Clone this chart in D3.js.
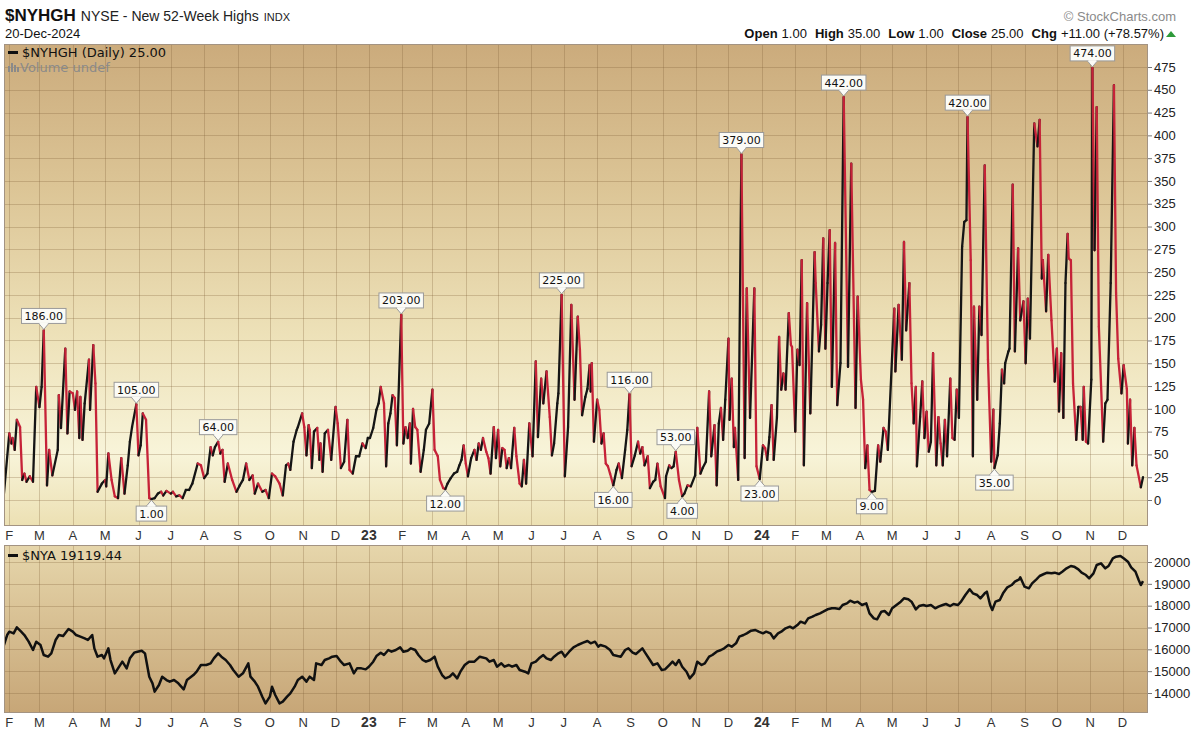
<!DOCTYPE html>
<html><head><meta charset="utf-8">
<script src="https://cdn.jsdelivr.net/npm/d3@7"></script>
<style>body{margin:0;background:#fff;} svg{display:block;font-family:"Liberation Sans",Arial,sans-serif;}</style>
</head><body><svg id="c" width="1200" height="739"></svg>
<script>
// ---------------- DATA ----------------
const nyhghData = [
["2022-01-27",7],["2022-02-01",73],["2022-02-03",62],["2022-02-04",68],["2022-02-06",55],["2022-02-08",88],["2022-02-11",80],["2022-02-13",22],["2022-02-15",29],["2022-02-17",20],["2022-02-20",26],["2022-02-23",20],["2022-02-26",124],["2022-03-01",102],["2022-03-03",124],["2022-03-05",186],["2022-03-08",16],["2022-03-10",55],["2022-03-13",27],["2022-03-18",55],["2022-03-19",115],["2022-03-21",79],["2022-03-25",166],["2022-03-27",73],["2022-03-29",119],["2022-04-01",117],["2022-04-03",99],["2022-04-05",119],["2022-04-07",68],["2022-04-08",113],["2022-04-10",66],["2022-04-12",106],["2022-04-16",154],["2022-04-17",99],["2022-04-20",170],["2022-04-22",128],["2022-04-24",9],["2022-04-28",18],["2022-05-01",22],["2022-05-02",15],["2022-05-04",51],["2022-05-07",22],["2022-05-10",4],["2022-05-13",2],["2022-05-16",46],["2022-05-19",7],["2022-05-22",38],["2022-05-24",64],["2022-05-26",80],["2022-05-30",105],["2022-06-01",49],["2022-06-03",60],["2022-06-05",95],["2022-06-08",88],["2022-06-11",2],["2022-06-13",1],["2022-06-16",2],["2022-06-19",7],["2022-06-22",9],["2022-06-24",5],["2022-06-27",10],["2022-07-01",7],["2022-07-03",9],["2022-07-06",4],["2022-07-09",5],["2022-07-12",2],["2022-07-15",11],["2022-07-18",11],["2022-07-21",18],["2022-07-26",40],["2022-07-29",38],["2022-08-01",24],["2022-08-04",29],["2022-08-07",58],["2022-08-09",49],["2022-08-11",58],["2022-08-14",64],["2022-08-16",51],["2022-08-18",55],["2022-08-20",20],["2022-08-23",40],["2022-08-27",22],["2022-08-31",9],["2022-09-03",16],["2022-09-06",22],["2022-09-09",40],["2022-09-12",22],["2022-09-15",27],["2022-09-17",7],["2022-09-20",18],["2022-09-24",9],["2022-09-27",11],["2022-09-30",2],["2022-10-03",29],["2022-10-06",26],["2022-10-10",18],["2022-10-13",5],["2022-10-16",38],["2022-10-18",40],["2022-10-20",33],["2022-10-23",64],["2022-10-26",77],["2022-10-27",80],["2022-10-31",95],
["2022-11-02",80],["2022-11-04",49],["2022-11-06",82],["2022-11-07",77],["2022-11-09",35],["2022-11-11",75],["2022-11-14",79],["2022-11-16",44],["2022-11-17",62],["2022-11-19",31],["2022-11-21",73],["2022-11-24",77],["2022-11-27",44],["2022-12-01",102],["2022-12-03",84],["2022-12-06",35],["2022-12-09",42],["2022-12-12",88],["2022-12-14",33],["2022-12-17",29],["2022-12-20",48],["2022-12-23",48],["2022-12-26",62],["2022-12-29",57],["2022-12-31",68],["2023-01-02",68],["2023-01-05",79],["2023-01-08",99],["2023-01-10",106],["2023-01-12",124],["2023-01-15",106],["2023-01-17",37],["2023-01-19",84],["2023-01-21",95],["2023-01-23",115],["2023-01-25",112],["2023-01-27",60],["2023-01-31",203],["2023-02-02",62],["2023-02-04",80],["2023-02-06",68],["2023-02-08",84],["2023-02-09",40],["2023-02-11",100],["2023-02-13",80],["2023-02-15",77],["2023-02-18",31],["2023-02-21",55],["2023-02-23",77],["2023-02-26",84],["2023-03-01",121],["2023-03-03",55],["2023-03-06",48],["2023-03-08",22],["2023-03-11",13],["2023-03-13",12],["2023-03-15",18],["2023-03-18",24],["2023-03-21",29],["2023-03-24",31],["2023-03-26",38],["2023-03-28",44],["2023-03-30",60],["2023-04-01",40],["2023-04-03",26],["2023-04-06",46],["2023-04-09",55],["2023-04-11",44],["2023-04-13",62],["2023-04-15",55],["2023-04-17",68],["2023-04-20",53],["2023-04-22",46],["2023-04-24",29],["2023-04-27",80],["2023-04-29",46],["2023-05-01",77],["2023-05-03",37],["2023-05-05",57],["2023-05-07",55],["2023-05-09",35],["2023-05-11",46],["2023-05-13",35],["2023-05-16",79],["2023-05-18",48],["2023-05-21",18],["2023-05-23",15],["2023-05-25",44],["2023-05-27",18],["2023-05-30",84],["2023-06-02",48],["2023-06-05",152],["2023-06-07",69],["2023-06-10",133],["2023-06-12",106],["2023-06-15",141],["2023-06-18",91],["2023-06-20",49],["2023-06-22",62],["2023-06-25",106],["2023-06-26",117],["2023-06-29",225],["2023-07-02",26],["2023-07-05",80],["2023-07-08",214],["2023-07-11",110],
["2023-07-14",201],["2023-07-16",165],["2023-07-18",93],["2023-07-21",113],["2023-07-23",122],["2023-07-25",148],["2023-07-26",119],["2023-07-27",150],["2023-07-29",64],["2023-08-01",110],["2023-08-03",99],["2023-08-05",62],["2023-08-07",73],["2023-08-09",40],["2023-08-11",37],["2023-08-13",29],["2023-08-16",16],["2023-08-19",33],["2023-08-21",40],["2023-08-24",24],["2023-08-27",55],["2023-08-29",77],["2023-08-31",116],["2023-09-02",37],["2023-09-05",49],["2023-09-08",64],["2023-09-10",51],["2023-09-12",58],["2023-09-14",38],["2023-09-17",48],["2023-09-19",13],["2023-09-22",20],["2023-09-24",22],["2023-09-26",40],["2023-09-29",15],["2023-10-03",2],["2023-10-04",26],["2023-10-07",38],["2023-10-09",35],["2023-10-11",37],["2023-10-13",53],["2023-10-16",22],["2023-10-19",4],["2023-10-21",7],["2023-10-24",16],["2023-10-27",15],["2023-10-31",27],["2023-11-02",79],["2023-11-05",29],["2023-11-07",35],["2023-11-10",42],["2023-11-13",119],["2023-11-15",48],["2023-11-18",82],["2023-11-20",16],["2023-11-22",84],["2023-11-24",101],["2023-11-26",66],["2023-11-28",110],["2023-12-01",177],["2023-12-02",88],["2023-12-04",133],["2023-12-06",58],["2023-12-07",79],["2023-12-10",22],["2023-12-13",379],["2023-12-16",46],["2023-12-18",232],["2023-12-21",90],["2023-12-25",232],["2023-12-27",37],["2023-12-30",23],["2024-01-02",60],["2024-01-04",57],["2024-01-06",44],["2024-01-08",69],["2024-01-10",104],["2024-01-12",44],["2024-01-15",91],["2024-01-17",179],["2024-01-19",121],["2024-01-21",139],["2024-01-23",121],["2024-01-26",205],["2024-01-28",170],["2024-01-29",168],["2024-02-01",75],["2024-02-03",165],["2024-02-05",148],["2024-02-07",263],["2024-02-09",38],["2024-02-12",216],["2024-02-15",95],["2024-02-19",272],["2024-02-20",238],["2024-02-23",163],["2024-02-25",192],["2024-02-27",287],["2024-02-29",166],["2024-03-02",238],["2024-03-04",296],["2024-03-06",124],["2024-03-09",282],["2024-03-11",104],["2024-03-14",150],["2024-03-17",442],["2024-03-21",146],["2024-03-24",369],["2024-03-28",101],["2024-03-30",223],
["2024-04-02",132],["2024-04-04",110],["2024-04-06",35],["2024-04-08",60],["2024-04-10",11],["2024-04-12",9],["2024-04-15",10],["2024-04-18",60],["2024-04-20",42],["2024-04-23",79],["2024-04-25",75],["2024-04-27",55],["2024-05-03",210],["2024-05-04",141],["2024-05-07",214],["2024-05-10",154],["2024-05-12",283],["2024-05-14",186],["2024-05-17",238],["2024-05-19",128],["2024-05-21",84],["2024-05-23",124],["2024-05-24",37],["2024-05-27",91],["2024-05-29",130],["2024-05-31",68],["2024-06-02",97],["2024-06-04",53],["2024-06-06",64],["2024-06-08",161],["2024-06-11",38],["2024-06-13",91],["2024-06-15",62],["2024-06-17",38],["2024-06-19",88],["2024-06-21",48],["2024-06-24",133],["2024-06-26",68],["2024-06-28",66],["2024-06-30",121],["2024-07-02",90],["2024-07-05",278],["2024-07-07",305],["2024-07-09",307],["2024-07-10",420],["2024-07-13",263],["2024-07-15",48],["2024-07-16",212],["2024-07-19",110],["2024-07-21",212],["2024-07-23",181],["2024-07-26",367],["2024-07-29",154],["2024-08-01",42],["2024-08-03",99],["2024-08-04",35],["2024-08-07",49],["2024-08-09",84],["2024-08-11",143],["2024-08-13",128],["2024-08-14",150],["2024-08-17",163],["2024-08-18",166],["2024-08-21",346],["2024-08-23",163],["2024-08-26",276],["2024-08-28",197],["2024-08-31",218],["2024-09-02",150],["2024-09-04",221],["2024-09-06",177],["2024-09-10",413],["2024-09-13",388],["2024-09-15",417],["2024-09-17",243],["2024-09-18",263],["2024-09-21",207],["2024-09-23",269],["2024-09-26",197],["2024-09-29",130],["2024-10-01",166],["2024-10-03",97],["2024-10-05",161],["2024-10-07",90],["2024-10-09",238],["2024-10-11",292],["2024-10-12",265],["2024-10-14",263],["2024-10-16",128],["2024-10-19",66],["2024-10-21",102],["2024-10-23",102],["2024-10-25",66],["2024-10-26",124],["2024-10-28",64],["2024-10-30",62],["2024-11-02",132],["2024-11-03",474],["2024-11-05",274],["2024-11-07",431],["2024-11-09",190],["2024-11-13",64],["2024-11-15",106],["2024-11-17",110],["2024-11-20",238],["2024-11-23",455],["2024-11-25",227],["2024-11-27",155],["2024-11-30",117],["2024-12-02",148],["2024-12-05",122],["2024-12-06",62],["2024-12-08",110],["2024-12-10",38],["2024-12-12",79],["2024-12-14",38],["2024-12-18",14],["2024-12-20",25]
];

const nyaData = [
["2022-01-27",16198],["2022-01-30",16656],["2022-02-01",16809],["2022-02-05",16732],["2022-02-08",17007],["2022-02-12",16809],["2022-02-15",16656],["2022-02-19",16350],["2022-02-23",15969],["2022-02-26",16350],["2022-03-02",16198],["2022-03-05",15740],["2022-03-09",15663],["2022-03-12",15816],["2022-03-16",16427],["2022-03-19",16656],["2022-03-23",16610],["2022-03-26",16809],["2022-03-28",16931],["2022-04-01",16809],["2022-04-04",16656],["2022-04-08",16580],["2022-04-12",16503],["2022-04-15",16427],["2022-04-19",16656],["2022-04-21",16045],["2022-04-24",15663],["2022-04-28",15740],["2022-04-30",15587],["2022-05-04",16045],["2022-05-06",15511],["2022-05-10",14900],["2022-05-13",15129],["2022-05-17",15434],["2022-05-21",15129],["2022-05-24",15587],["2022-05-28",15847],["2022-05-31",15892],["2022-06-04",15938],["2022-06-07",15816],["2022-06-11",14747],["2022-06-14",14442],["2022-06-16",14060],["2022-06-20",14366],["2022-06-23",14747],["2022-06-27",14594],["2022-06-30",14518],["2022-07-04",14594],["2022-07-08",14442],["2022-07-13",14167],["2022-07-16",14594],["2022-07-22",14824],["2022-07-25",14976],["2022-07-29",15282],["2022-08-03",15282],["2022-08-07",15358],["2022-08-10",15587],["2022-08-14",15816],["2022-08-17",15663],["2022-08-21",15511],["2022-08-25",15282],["2022-08-28",15053],["2022-09-02",14747],["2022-09-06",14900],["2022-09-11",15358],["2022-09-13",14747],["2022-09-17",14518],["2022-09-20",14289],["2022-09-24",13831],["2022-09-27",13526],["2022-10-01",13831],["2022-10-03",14289],["2022-10-06",13907],["2022-10-10",13526],["2022-10-13",13602],["2022-10-17",13831],["2022-10-20",13984],["2022-10-24",14289],["2022-10-27",14594],["2022-10-31",14747],["2022-11-04",14518],["2022-11-07",14747],["2022-11-11",14594],["2022-11-13",15358],["2022-11-18",15282],["2022-11-21",15511],["2022-11-25",15587],["2022-11-28",15663],["2022-12-02",15694],["2022-12-06",15434],["2022-12-09",15282],["2022-12-14",15358],["2022-12-18",14900],["2022-12-21",15129],["2022-12-25",15129],["2022-12-29",15083],
["2023-01-01",15205],["2023-01-05",15434],["2023-01-08",15694],["2023-01-12",15847],["2023-01-15",15740],["2023-01-19",15969],["2023-01-22",15892],["2023-01-26",15969],["2023-01-30",16091],["2023-02-02",15892],["2023-02-06",15938],["2023-02-09",16045],["2023-02-13",15969],["2023-02-16",15740],["2023-02-20",15511],["2023-02-23",15434],["2023-02-27",15511],["2023-03-03",15663],["2023-03-06",15205],["2023-03-10",14824],["2023-03-13",14671],["2023-03-17",14747],["2023-03-20",14900],["2023-03-24",14671],["2023-03-27",14976],["2023-03-31",15282],["2023-04-04",15434],["2023-04-09",15434],["2023-04-14",15663],["2023-04-20",15587],["2023-04-23",15434],["2023-04-27",15511],["2023-04-30",15205],["2023-05-04",15358],["2023-05-07",15205],["2023-05-11",15282],["2023-05-14",15205],["2023-05-18",15282],["2023-05-21",15053],["2023-05-26",14976],["2023-05-29",14900],["2023-06-01",15358],["2023-06-05",15434],["2023-06-08",15587],["2023-06-12",15740],["2023-06-15",15587],["2023-06-19",15511],["2023-06-22",15663],["2023-06-26",15816],["2023-06-29",15892],["2023-07-02",15663],["2023-07-06",15892],["2023-07-10",16091],["2023-07-14",16198],["2023-07-19",16305],["2023-07-23",16381],["2023-07-26",16274],["2023-07-30",16350],["2023-08-02",16122],["2023-08-04",16198],["2023-08-09",16122],["2023-08-13",15969],["2023-08-16",15740],["2023-08-20",15694],["2023-08-23",15663],["2023-08-27",15969],["2023-08-30",16045],["2023-09-03",15847],["2023-09-06",15785],["2023-09-12",16045],["2023-09-15",15816],["2023-09-19",15511],["2023-09-22",15282],["2023-09-26",15358],["2023-09-30",15053],["2023-10-03",15083],["2023-10-07",15282],["2023-10-10",15434],["2023-10-13",15282],["2023-10-16",15511],["2023-10-19",15205],["2023-10-23",14976],["2023-10-26",14671],["2023-10-30",14900],["2023-11-02",15434],["2023-11-06",15282],["2023-11-09",15358],["2023-11-13",15663],["2023-11-16",15740],["2023-11-20",15892],["2023-11-24",15969],["2023-11-27",16045],["2023-12-01",16198],["2023-12-04",16122],["2023-12-08",16274],["2023-12-11",16580],["2023-12-15",16656],["2023-12-18",16732],["2023-12-22",16854],["2023-12-26",16885],["2023-12-29",16809],
["2024-01-02",16732],["2024-01-05",16809],["2024-01-09",16732],["2024-01-12",16503],["2024-01-16",16732],["2024-01-19",16809],["2024-01-23",16961],["2024-01-27",17038],["2024-01-30",16961],["2024-02-03",17114],["2024-02-06",17267],["2024-02-10",17190],["2024-02-13",17419],["2024-02-17",17496],["2024-02-20",17572],["2024-02-24",17649],["2024-02-27",17725],["2024-03-02",17832],["2024-03-06",17878],["2024-03-09",17878],["2024-03-13",17847],["2024-03-16",18030],["2024-03-20",18106],["2024-03-23",18229],["2024-03-27",18137],["2024-03-30",18183],["2024-04-03",18030],["2024-04-07",18106],["2024-04-10",17649],["2024-04-14",17419],["2024-04-17",17374],["2024-04-21",17725],["2024-04-24",17755],["2024-04-28",17572],["2024-05-01",17878],["2024-05-05",18030],["2024-05-09",18183],["2024-05-12",18336],["2024-05-16",18290],["2024-05-19",18183],["2024-05-23",17832],["2024-05-26",17984],["2024-05-30",18030],["2024-06-02",17984],["2024-06-06",18030],["2024-06-10",17878],["2024-06-13",17954],["2024-06-17",18030],["2024-06-20",18076],["2024-06-24",17984],["2024-06-27",18076],["2024-07-01",18030],["2024-07-04",18183],["2024-07-08",18488],["2024-07-12",18748],["2024-07-15",18565],["2024-07-19",18488],["2024-07-22",18336],["2024-07-26",18565],["2024-07-28",18641],["2024-07-31",18030],["2024-08-02",17801],["2024-08-05",18183],["2024-08-09",18259],["2024-08-12",18565],["2024-08-16",18840],["2024-08-20",18946],["2024-08-23",19099],["2024-08-27",19206],["2024-08-28",19298],["2024-09-01",18870],["2024-09-05",18794],["2024-09-08",19023],["2024-09-12",19206],["2024-09-15",19359],["2024-09-19",19450],["2024-09-22",19511],["2024-09-26",19481],["2024-09-29",19511],["2024-10-03",19450],["2024-10-06",19557],["2024-10-10",19710],["2024-10-14",19817],["2024-10-17",19786],["2024-10-21",19664],["2024-10-24",19511],["2024-10-28",19404],["2024-10-31",19252],["2024-11-04",19481],["2024-11-07",19863],["2024-11-11",19939],["2024-11-15",19710],["2024-11-18",19817],["2024-11-22",20168],["2024-11-25",20244],["2024-11-29",20275],["2024-12-02",20168],["2024-12-06",20015],["2024-12-09",19756],["2024-12-13",19557],["2024-12-16",19175],["2024-12-18",18946],["2024-12-20",19119.44]
];

const annotHighDates = ["2022-03-05","2022-05-30","2022-08-14","2023-01-31","2023-06-29","2023-08-31","2023-10-13","2023-12-13","2024-03-17","2024-07-10","2024-11-03"];
const annotLowDates  = ["2022-06-13","2023-03-13","2023-08-16","2023-10-19","2023-12-30","2024-04-12","2024-08-04"];
const yTicksTop = [0,25,50,75,100,125,150,175,200,225,250,275,300,325,350,375,400,425,450,475];
const yTicksBot = [14000,15000,16000,17000,18000,19000,20000];
const monthLetters = ["J","F","M","A","M","J","J","A","S","O","N","D"];
const titleSym = "$NYHGH", titleName = "NYSE - New 52-Week Highs", titleEx = "INDX", chartDate = "20-Dec-2024";
const quote = [["Open","1.00"],["High","35.00"],["Low","1.00"],["Close","25.00"],["Chg","+11.00 (+78.57%)"]];
const legendTop = "$NYHGH (Daily) 25.00", legendVol = "Volume undef", legendBot = "$NYA 19119.44";

// ---------------- LAYOUT ----------------
const parse = d3.utcParse("%Y-%m-%d");
const P1 = {l:4, r:1148, t:44, b:526};
const P2 = {l:4, r:1148, t:545, b:713};
const svg = d3.select("#c");
const x = d3.scaleUtc().domain([parse("2022-01-28"), parse("2024-12-20")]).range([5, 1143]);
const yT = d3.scaleLinear().domain([0,475]).range([500,67]);
const yB = d3.scaleLinear().domain([14000,20000]).range([693,562]);
const topSeries = nyhghData.map(d=>({d:parse(d[0]), v:d[1]}));
const botSeries = nyaData.map(d=>({d:parse(d[0]), v:d[1]}));

const defs = svg.append("defs");
const g1 = defs.append("linearGradient").attr("id","gTop").attr("x1",0).attr("y1",0).attr("x2",0).attr("y2",1);
[[0,"#cbab7c"],[0.3,"#dcc596"],[0.6,"#ede1b8"],[0.85,"#f8f4d9"],[1,"#ece0b3"]].forEach(s=>g1.append("stop").attr("offset",s[0]).attr("stop-color",s[1]));
const g2 = defs.append("linearGradient").attr("id","gBot").attr("x1",0).attr("y1",0).attr("x2",0).attr("y2",1);
[[0,"#e6d6ab"],[1,"#c7a677"]].forEach(s=>g2.append("stop").attr("offset",s[0]).attr("stop-color",s[1]));
defs.append("clipPath").attr("id","c1").append("rect").attr("x",P1.l).attr("y",P1.t).attr("width",P1.r-P1.l).attr("height",P1.b-P1.t);
defs.append("clipPath").attr("id","c2").append("rect").attr("x",P2.l).attr("y",P2.t).attr("width",P2.r-P2.l).attr("height",P2.b-P2.t);

// Header
const hdr = svg.append("text").attr("x",5).attr("y",21);
hdr.append("tspan").attr("font-size",17).attr("font-weight","bold").attr("fill","#111").text(titleSym);
hdr.append("tspan").attr("font-size",14).attr("fill","#222").attr("dx",5).text(titleName);
hdr.append("tspan").attr("font-size",11).attr("fill","#222").attr("dx",5).text(titleEx);
svg.append("text").attr("x",5).attr("y",38).attr("font-size",13).attr("fill","#111").text(chartDate);
svg.append("text").attr("x",1176).attr("y",21).attr("text-anchor","end").attr("font-size",13).attr("fill","#8a8a8a").text("\u00A9 StockCharts.com");
const q = svg.append("text").attr("x",1164).attr("y",38).attr("text-anchor","end").attr("font-size",13).attr("fill","#111");
quote.forEach((p,i)=>{
  q.append("tspan").attr("font-weight","bold").attr("dx", i? 8:0).text(p[0]);
  q.append("tspan").attr("dx",4).text(p[1]);
});
svg.append("path").attr("d","M1166,37 L1176,37 L1171,31 Z").attr("fill","#2e9a3a");

// Panels
const monthsAll = d3.utcMonth.range(parse("2022-02-01"), parse("2024-12-02"));
function panel(P, grad, clip, yScale, ticks){
  svg.append("rect").attr("x",P.l).attr("y",P.t).attr("width",P.r-P.l).attr("height",P.b-P.t).attr("fill",`url(#${grad})`);
  const gg = svg.append("g").attr("clip-path",`url(#${clip})`);
  gg.selectAll("line.h").data(ticks).join("line").attr("x1",P.l).attr("x2",P.r)
    .attr("y1",d=>Math.round(yScale(d))+0.5).attr("y2",d=>Math.round(yScale(d))+0.5)
    .attr("stroke","rgba(125,95,55,0.28)").attr("stroke-width",1);
  gg.selectAll("line.v").data(monthsAll).join("line").attr("y1",P.t).attr("y2",P.b)
    .attr("x1",d=>Math.round(x(d))+0.5).attr("x2",d=>Math.round(x(d))+0.5)
    .attr("stroke","rgba(125,95,55,0.28)").attr("stroke-width",1);
  const ax = d3.axisRight(yScale).tickValues(ticks).tickSize(4).tickPadding(2).tickFormat(d3.format("d"));
  const a = svg.append("g").attr("transform",`translate(${P.r},0)`).call(ax);
  a.select(".domain").remove();
  a.selectAll("line").attr("stroke","#777");
  a.selectAll("text").attr("font-size",13).attr("fill","#222").attr("font-family","Liberation Sans, Arial, sans-serif");
  return gg;
}
const gp1 = panel(P1,"gTop","c1",yT,yTicksTop);
const gp2 = panel(P2,"gBot","c2",yB,yTicksBot);

// Month labels
function monthRow(yb){
  svg.append("g").selectAll("text").data(monthsAll).join("text")
    .attr("x",d=>x(d)).attr("y",yb).attr("text-anchor","middle")
    .attr("font-size",d=>d.getUTCMonth()===0?14:13)
    .attr("font-weight",d=>d.getUTCMonth()===0?"bold":"normal")
    .attr("fill","#333")
    .text(d=>d.getUTCMonth()===0? String(d.getUTCFullYear()).slice(2) : monthLetters[d.getUTCMonth()]);
}
monthRow(540);
monthRow(727);

// Top series: colored segments (black up, red down)
const segs = d3.pairs(topSeries);
gp1.selectAll("line.s").data(segs).join("line")
  .attr("x1",p=>x(p[0].d)).attr("y1",p=>yT(p[0].v)).attr("x2",p=>x(p[1].d)).attr("y2",p=>yT(p[1].v))
  .attr("stroke",p=>p[1].v>=p[0].v?"#151515":"#c62238").attr("stroke-width",2.3).attr("stroke-linecap","round");

// Bottom series
gp2.append("path").datum(botSeries).attr("fill","none").attr("stroke","#111").attr("stroke-width",2.5)
  .attr("stroke-linejoin","round").attr("d",d3.line().x(d=>x(d.d)).y(d=>yB(d.v)));

// Annotations
function annot(dateStr, isHigh){
  const p = topSeries.find(d=>+d.d===+parse(dateStr));
  if(!p) return;
  const px = x(p.d), py = yT(p.v);
  const txt = p.v.toFixed(2);
  const g = svg.append("g");
  const t = g.append("text").attr("font-size",11).attr("font-family","DejaVu Sans, sans-serif").attr("fill","#111").attr("text-anchor","middle").text(txt);
  const w = t.node().getComputedTextLength()+6, h=15;
  const by = isHigh ? py-7-h : py+7;
  g.insert("rect","text").attr("x",px-w/2).attr("y",by).attr("width",w).attr("height",h).attr("fill","#fbfbf6").attr("stroke","#9a9a9a").attr("stroke-width",1);
  const tip = isHigh ? `M${px-5},${by+h} L${px},${py-1} L${px+5},${by+h}` : `M${px-5},${by} L${px},${py+1} L${px+5},${by}`;
  g.insert("path","text").attr("d",tip).attr("fill","#fbfbf6").attr("stroke","#9a9a9a").attr("stroke-width",1);
  g.insert("line","text").attr("x1",px-4).attr("x2",px+4).attr("y1",isHigh?by+h:by).attr("y2",isHigh?by+h:by).attr("stroke","#fbfbf6").attr("stroke-width",1.5);
  t.attr("x",px).attr("y",by+11.5);
}
annotHighDates.forEach(d=>annot(d,true));
annotLowDates.forEach(d=>annot(d,false));

// Legends
function legend(yb, label){
  svg.append("rect").attr("x",8).attr("y",yb-6).attr("width",10).attr("height",3).attr("fill","#111");
  svg.append("text").attr("x",22).attr("y",yb).attr("font-size",13).attr("font-family","DejaVu Sans, sans-serif").attr("fill","#111").text(label);
}
legend(57, legendTop);
legend(560, legendBot);
const vi = svg.append("g").attr("fill","#8a8a8a");
[[8,66,2,6],[11,63,2,9],[14,65,2,7],[17,67,2,5]].forEach(r=>vi.append("rect").attr("x",r[0]).attr("y",r[1]).attr("width",r[2]).attr("height",r[3]));
svg.append("text").attr("x",20).attr("y",72).attr("font-size",13).attr("font-family","DejaVu Sans, sans-serif").attr("fill","#8a8a8a").text(legendVol);

// Borders
[P1,P2].forEach(P=>svg.append("rect").attr("x",P.l+0.5).attr("y",P.t+0.5).attr("width",P.r-P.l-1).attr("height",P.b-P.t-1).attr("fill","none").attr("stroke","#a39382"));
</script></body></html>
